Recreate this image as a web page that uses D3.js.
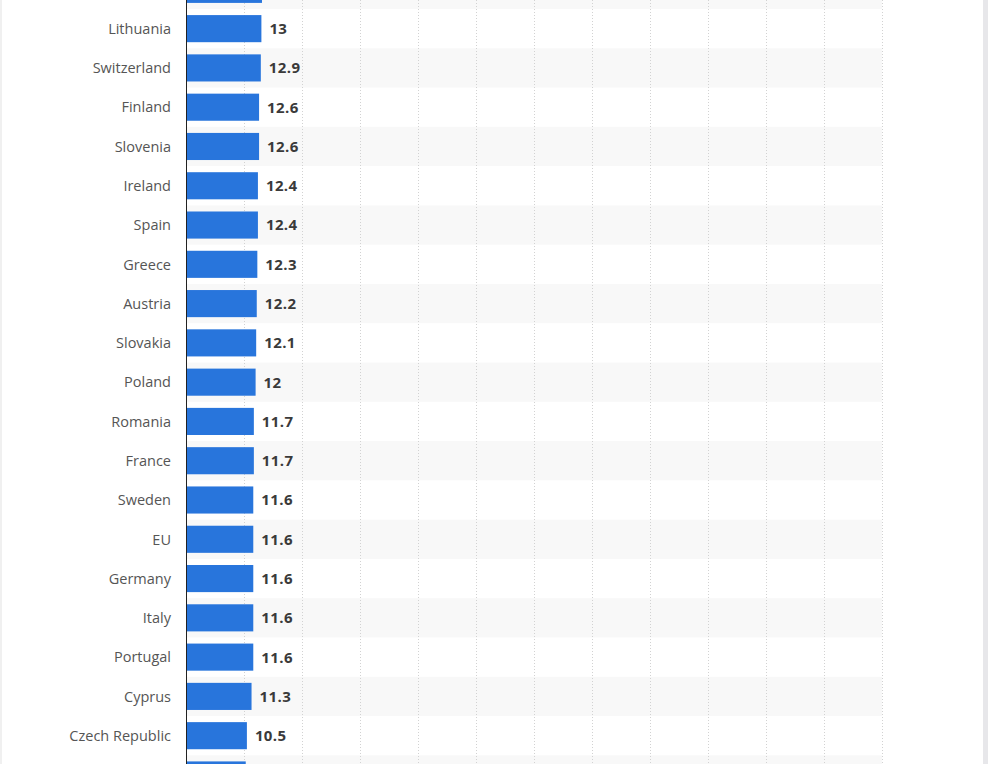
<!DOCTYPE html>
<html>
<head>
<meta charset="utf-8">
<script src="https://cdn.jsdelivr.net/npm/d3@7"></script>
<style>
  html, body { margin: 0; padding: 0; background: #fff; }
  svg { display: block; }
</style>
</head>
<body>
<div id="chart"></div>
<script>
// Rows as shown (first and last rows are cut off by the frame; their names are not visible)
const categories = ["", "Lithuania", "Switzerland", "Finland", "Slovenia", "Ireland", "Spain", "Greece",
  "Austria", "Slovakia", "Poland", "Romania", "France", "Sweden", "EU", "Germany", "Italy",
  "Portugal", "Cyprus", "Czech Republic", ""];
const values = [13.1, 13, 12.9, 12.6, 12.6, 12.4, 12.4, 12.3, 12.2, 12.1, 12, 11.7, 11.7, 11.6,
  11.6, 11.6, 11.6, 11.6, 11.3, 10.5, 10.3];
const xTicks = [10, 20, 30, 40, 50, 60, 70, 80, 90, 100, 110, 120];

const W = 988, H = 764;
const rowStep = 39.28;
const firstTop = 9 - rowStep;

const data = categories.map((c, i) => ({ id: i, name: c, value: values[i] }));

const svg = d3.select("#chart").append("svg").attr("width", W).attr("height", H);

const x = d3.scaleLinear().domain([0, 120]).range([186, 882]);
const rows = d3.scaleBand().domain(data.map(d => d.id))
  .range([firstTop, firstTop + rowStep * data.length]).padding(0);
const bars = d3.scaleBand().domain(data.map(d => d.id))
  .range([firstTop, firstTop + rowStep * data.length])
  .paddingInner(0.31).paddingOuter(0.155);

// frame edges
svg.append("rect").attr("x", 0).attr("y", 0).attr("width", 2).attr("height", H).attr("fill", "#f0f0f0");
svg.append("rect").attr("x", 983).attr("y", 0).attr("width", 5).attr("height", H).attr("fill", "#e7e7ea");

// alternating stripes
svg.append("g").selectAll("rect").data(data.filter(d => d.id % 2 === 0)).join("rect")
  .attr("x", x(0)).attr("width", x(120) - x(0))
  .attr("y", d => rows(d.id)).attr("height", rows.bandwidth())
  .attr("fill", "#f8f8f8");

// gridlines
svg.append("g").selectAll("line").data(xTicks).join("line")
  .attr("x1", d => Math.round(x(d)) + 0.5).attr("x2", d => Math.round(x(d)) + 0.5)
  .attr("y1", 0).attr("y2", H)
  .attr("stroke", "#d2d2d2").attr("stroke-width", 1).attr("stroke-dasharray", "1,2");

// bars
svg.append("g").selectAll("rect").data(data).join("rect")
  .attr("x", x(0) + 1).attr("width", d => x(d.value) - x(0) - 1)
  .attr("y", d => bars(d.id)).attr("height", bars.bandwidth())
  .attr("fill", "#2875dc");

// axis line
svg.append("line").attr("x1", x(0) + 0.5).attr("x2", x(0) + 0.5).attr("y1", 0).attr("y2", H)
  .attr("stroke", "#222").attr("stroke-width", 1);

// category labels
svg.append("g").selectAll("text").data(data.filter(d => d.name)).join("text")
  .attr("x", 171).attr("y", d => rows(d.id) + rows.bandwidth() / 2)
  .attr("dy", "0.36em").attr("text-anchor", "end")
  .attr("font-family", "'Open Sans', sans-serif").attr("font-size", 14.5)
  .attr("fill", "#555").text(d => d.name);

// value labels
svg.append("g").selectAll("text").data(data.filter(d => d.name)).join("text")
  .attr("x", d => x(d.value) + 8).attr("y", d => rows(d.id) + rows.bandwidth() / 2)
  .attr("dy", "0.36em")
  .attr("font-family", "'Open Sans', sans-serif").attr("font-size", 15).attr("font-weight", "bold")
  .attr("letter-spacing", 0.4)
  .attr("fill", "#3a3a3a").text(d => d.value);
</script>
</body>
</html>
